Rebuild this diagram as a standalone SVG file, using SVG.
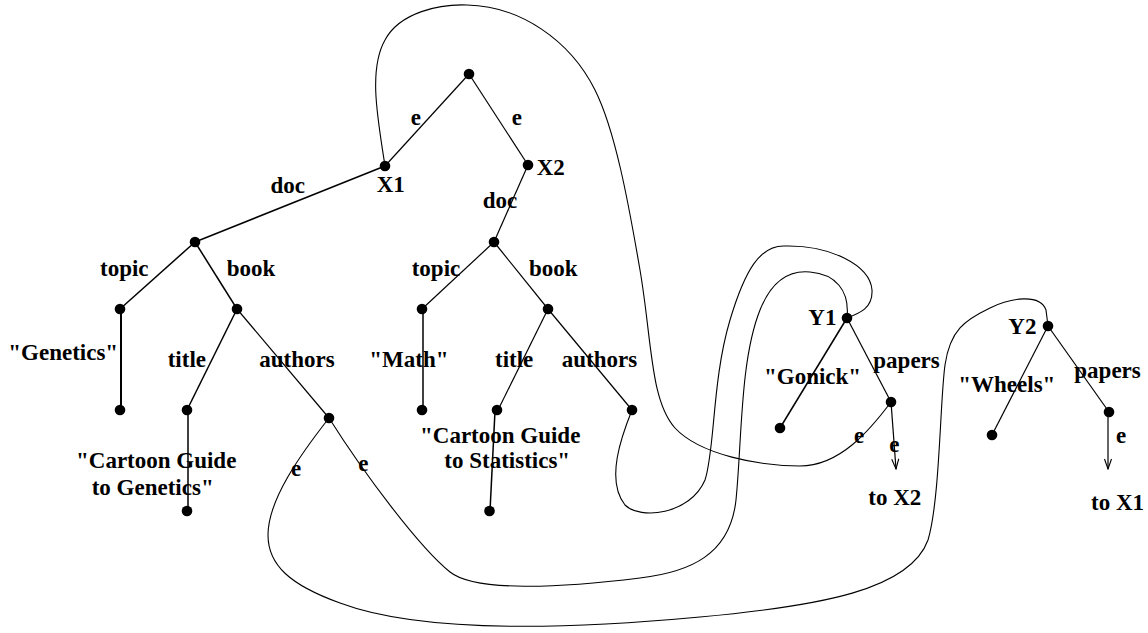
<svg xmlns="http://www.w3.org/2000/svg" width="1148" height="633" viewBox="0 0 1148 633">
<style>
text{font-family:"Liberation Serif","Times New Roman",serif;font-weight:bold;font-size:23px;fill:#000}
.dot{fill:#000}
.e{stroke:#000;stroke-width:1.2;fill:none}
.t{stroke:#000;stroke-width:1.5;fill:none}
.w{stroke:#000;stroke-width:2;fill:none}
.c{stroke:#000;stroke-width:1.1;fill:none}
</style>
<defs>
<marker id="ar" markerWidth="12" markerHeight="10" viewBox="-11 -5 12 10" refX="0" refY="0" orient="auto" markerUnits="userSpaceOnUse">
<path d="M-10,-3.5 L0,0 L-10,3.5" fill="none" stroke="#000" stroke-width="1.1"/>
</marker>
</defs>
<rect width="1148" height="633" fill="#fff"/>
<g id="connectors">
<line class="e" x1="469" y1="74" x2="385" y2="166"/>
<line class="e" x1="469" y1="74" x2="528" y2="165"/>
<line class="t" x1="385" y1="166" x2="195" y2="242"/>
<line class="e" x1="528" y1="165" x2="494" y2="242"/>
<line class="t" x1="195" y1="242" x2="120" y2="309"/>
<line class="t" x1="195" y1="242" x2="237" y2="309"/>
<line class="w" x1="121" y1="309" x2="121" y2="410"/>
<line class="t" x1="237" y1="309" x2="187" y2="410"/>
<line class="e" x1="237" y1="309" x2="329" y2="418"/>
<line class="t" x1="188" y1="410" x2="188" y2="511"/>
<line class="e" x1="494" y1="242" x2="422" y2="309"/>
<line class="e" x1="494" y1="242" x2="548" y2="309"/>
<line class="t" x1="423" y1="309" x2="423" y2="410"/>
<line class="e" x1="548" y1="309" x2="498" y2="410"/>
<line class="e" x1="548" y1="309" x2="632" y2="410"/>
<line class="t" x1="495" y1="411" x2="490" y2="511"/>
<line class="t" x1="847" y1="318" x2="780" y2="428"/>
<line class="e" x1="847" y1="318" x2="891" y2="402"/>
<line class="e" x1="1048" y1="326" x2="992" y2="435"/>
<line class="e" x1="1048" y1="326" x2="1109" y2="412"/>
<line class="e" x1="891" y1="402" x2="896" y2="469" marker-end="url(#ar)"/>
<line class="e" x1="1108" y1="412" x2="1108" y2="469" marker-end="url(#ar)"/>
<path class="c" d="M385,166 C378,120 368,70 385,40 C400,12 440,4 467,5 C520,6 570,40 595,90 C615,130 628,200 640,270 C652,340 650,400 675,428 C700,455 760,466 800,466 C840,466 870,430 891,402"/>
<path class="c" d="M632,410 C622,435 605,480 625,505 C640,520 690,515 705,480 C715,450 712,380 730,320 C745,270 760,245 785,246 C830,245 870,265 872,290 C873,308 860,313 847,318"/>
<path class="c" d="M329,418 C365,475 420,548 450,572 C475,592 560,588 640,578 C690,572 730,555 736,500 C742,440 740,360 760,310 C772,280 790,270 810,272 C835,274 850,290 847,318"/>
<path class="c" d="M329,418 C300,455 268,500 268,535 C268,565 290,585 340,603 C420,633 560,630 700,617 C820,606 910,590 928,540 C940,500 940,400 945,365 C950,330 965,320 990,308 C1010,298 1040,293 1046,310 L1048,326"/>
<text x="410.7" y="125">e</text>
<text x="511.7" y="125">e</text>
<text x="270.4" y="193">doc</text>
<text x="482.7" y="208">doc</text>
<text x="100" y="276">topic</text>
<text x="226.7" y="276">book</text>
<text x="411.7" y="276">topic</text>
<text x="529" y="276">book</text>
<text x="167.7" y="367">title</text>
<text x="259.3" y="367">authors</text>
<text x="495" y="367">title</text>
<text x="561.7" y="367">authors</text>
<text x="291" y="476">e</text>
<text x="358.3" y="471">e</text>
<text x="873.3" y="368">papers</text>
<text x="854" y="443">e</text>
<text x="889.3" y="452">e</text>
<text x="1074.3" y="378">papers</text>
<text x="1116" y="443">e</text>
</g>
<g id="root"><circle class="dot" cx="469" cy="74" r="5.3"/></g>
<g id="X1"><circle class="dot" cx="385" cy="166" r="5.3"/><text x="376.7" y="191.7">X1</text></g>
<g id="X2"><circle class="dot" cx="528" cy="165" r="5.3"/><text x="536.7" y="175">X2</text></g>
<g id="doc1"><circle class="dot" cx="195" cy="242" r="5.3"/></g>
<g id="doc2"><circle class="dot" cx="494" cy="242" r="5.3"/></g>
<g id="topic1"><circle class="dot" cx="120" cy="309" r="5.3"/></g>
<g id="book1"><circle class="dot" cx="237" cy="309" r="5.3"/></g>
<g id="genetics"><circle class="dot" cx="120" cy="410" r="5.3"/><text x="8.3" y="360">"Genetics"</text></g>
<g id="title1"><circle class="dot" cx="187" cy="410" r="5.3"/></g>
<g id="title1val"><circle class="dot" cx="187" cy="511" r="5.3"/><text x="76" y="468">"Cartoon Guide</text><text x="91.7" y="495">to Genetics"</text></g>
<g id="authors1"><circle class="dot" cx="329" cy="418" r="5.3"/></g>
<g id="topic2"><circle class="dot" cx="422" cy="309" r="5.3"/></g>
<g id="book2"><circle class="dot" cx="548" cy="309" r="5.3"/></g>
<g id="math"><circle class="dot" cx="422" cy="410" r="5.3"/><text x="369.3" y="367">"Math"</text></g>
<g id="title2"><circle class="dot" cx="497" cy="410" r="5.3"/></g>
<g id="title2val"><circle class="dot" cx="489.5" cy="511" r="5.3"/><text x="420" y="443">"Cartoon Guide</text><text x="444.3" y="468">to Statistics"</text></g>
<g id="authors2"><circle class="dot" cx="632" cy="410" r="5.3"/></g>
<g id="Y1"><circle class="dot" cx="847" cy="318" r="5.3"/><text x="808.3" y="325">Y1</text></g>
<g id="gonick"><circle class="dot" cx="780" cy="428" r="5.3"/><text x="764" y="384">"Gonick"</text></g>
<g id="papers1"><circle class="dot" cx="891" cy="402" r="5.3"/></g>
<g id="toX2"><text x="868.3" y="505">to X2</text></g>
<g id="Y2"><circle class="dot" cx="1048" cy="326" r="5.3"/><text x="1008.3" y="334">Y2</text></g>
<g id="wheels"><circle class="dot" cx="992" cy="435" r="5.3"/><text x="958.3" y="392">"Wheels"</text></g>
<g id="papers2"><circle class="dot" cx="1109" cy="412" r="5.3"/></g>
<g id="toX1"><text x="1091" y="510">to X1</text></g>
</svg>
